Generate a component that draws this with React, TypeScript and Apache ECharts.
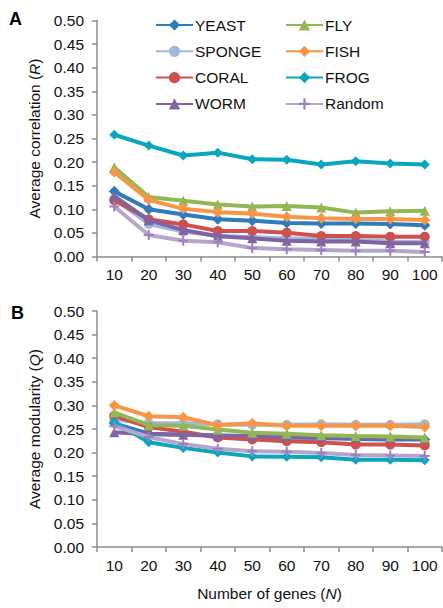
import React, { useEffect, useRef } from "react";
import * as echarts from "echarts";

const categories = ["10", "20", "30", "40", "50", "60", "70", "80", "90", "100"];

const seriesNames = ["YEAST", "SPONGE", "CORAL", "WORM", "FLY", "FISH", "FROG", "Random"];

// Panel A: average correlation (R)
const corrYEAST = [0.138, 0.1, 0.089, 0.079, 0.076, 0.071, 0.07, 0.07, 0.069, 0.066];
const corrSPONGE = [0.122, 0.069, 0.053, 0.044, 0.041, 0.0385, 0.0364, 0.035, 0.032, 0.03];
const corrCORAL = [0.119, 0.079, 0.068, 0.054, 0.054, 0.0505, 0.0434, 0.0434, 0.042, 0.042];
const corrWORM = [0.128, 0.077, 0.056, 0.043, 0.0385, 0.0335, 0.032, 0.032, 0.028, 0.028];
const corrFLY = [0.189, 0.126, 0.118, 0.11, 0.106, 0.107, 0.104, 0.093, 0.096, 0.097];
const corrFISH = [0.179, 0.12, 0.101, 0.094, 0.091, 0.084, 0.081, 0.0794, 0.0794, 0.0775];
const corrFROG = [0.258, 0.235, 0.214, 0.22, 0.206, 0.205, 0.195, 0.202, 0.197, 0.195];
const corrRandom = [0.106, 0.0455, 0.0335, 0.03, 0.018, 0.0155, 0.0138, 0.012, 0.012, 0.0095];

// Panel B: average modularity (Q)
const modYEAST = [0.262, 0.24, 0.238, 0.236, 0.234, 0.232, 0.231, 0.229, 0.228, 0.228];
const modSPONGE = [0.27, 0.262, 0.262, 0.26, 0.259, 0.259, 0.26, 0.259, 0.259, 0.26];
const modCORAL = [0.278, 0.254, 0.244, 0.232, 0.228, 0.224, 0.222, 0.217, 0.217, 0.215];
const modWORM = [0.243, 0.239, 0.238, 0.236, 0.235, 0.234, 0.233, 0.232, 0.231, 0.23];
const modFLY = [0.285, 0.258, 0.257, 0.249, 0.242, 0.24, 0.237, 0.235, 0.234, 0.232];
const modFISH = [0.3, 0.277, 0.275, 0.258, 0.262, 0.257, 0.257, 0.257, 0.257, 0.254];
const modFROG = [0.265, 0.222, 0.21, 0.2, 0.192, 0.191, 0.19, 0.185, 0.185, 0.184];
const modRandom = [0.256, 0.233, 0.218, 0.208, 0.203, 0.202, 0.199, 0.195, 0.194, 0.193];

const yTicks = [0, 0.5, 0.05];

const colors: Record<string, string> = {
  YEAST: "#2E7CBA",
  SPONGE: "#9DB9DC",
  CORAL: "#D0504D",
  WORM: "#8064A2",
  FLY: "#93B755",
  FISH: "#F79646",
  FROG: "#0AA6BE",
  Random: "#B6A6CC",
};

const PLUS = "path://M4,0H6V4H10V6H6V10H4V6H0V4H4Z";

const symbols: Record<string, string> = {
  YEAST: "diamond",
  SPONGE: "circle",
  CORAL: "circle",
  WORM: "triangle",
  FLY: "triangle",
  FISH: "diamond",
  FROG: "diamond",
  Random: PLUS,
};

const symbolSizes: Record<string, number> = {
  YEAST: 11,
  SPONGE: 10,
  CORAL: 10,
  WORM: 10,
  FLY: 10,
  FISH: 11,
  FROG: 10,
  Random: 10,
};

const corrData = [corrYEAST, corrSPONGE, corrCORAL, corrWORM, corrFLY, corrFISH, corrFROG, corrRandom];
const modData = [modYEAST, modSPONGE, modCORAL, modWORM, modFLY, modFISH, modFROG, modRandom];

const FONT = "'Liberation Sans', Arial, sans-serif";
const FS = 15.5;

export default function App() {
  const ref = useRef<HTMLDivElement>(null);

  useEffect(() => {
    if (!ref.current) return;
    const chart = echarts.init(ref.current, undefined, { renderer: "svg" });

    const axisLine = { show: true, lineStyle: { color: "#8C8C8C", width: 1.5 } };
    const axisTick = { show: true, length: 5, lineStyle: { color: "#8C8C8C", width: 1.5 } };
    const labelStyle = { color: "#111", fontSize: FS, fontFamily: FONT };
    const nameStyle = {
      color: "#111",
      fontSize: FS,
      fontFamily: FONT,
      rich: { i: { fontStyle: "italic", fontSize: FS, fontFamily: FONT, color: "#111" } },
    };

    const makeX = (gridIndex: number, withName: boolean) => ({
      type: "category",
      gridIndex,
      data: categories,
      boundaryGap: true,
      axisLine,
      axisTick: { ...axisTick, interval: 0, alignWithLabel: false },
      axisLabel: { ...labelStyle, margin: 10, interval: 0 },
      splitLine: { show: false },
      name: withName ? "Number of genes ({i|N})" : "",
      nameLocation: "middle",
      nameGap: 38,
      nameTextStyle: nameStyle,
    });

    const makeY = (gridIndex: number, name: string) => ({
      type: "value",
      gridIndex,
      min: yTicks[0],
      max: yTicks[1],
      interval: yTicks[2],
      axisLine,
      axisTick: { ...axisTick },
      axisLabel: { ...labelStyle, margin: 13, formatter: (v: number) => v.toFixed(2) },
      splitLine: { show: false },
      name,
      nameLocation: "middle",
      nameGap: 55,
      nameTextStyle: nameStyle,
    });

    const mkSeries = (data: number[][], idx: number) =>
      seriesNames.map((name, i) => ({
        name,
        type: "line",
        xAxisIndex: idx,
        yAxisIndex: idx,
        data: data[i],
        symbol: symbols[name],
        symbolSize: symbolSizes[name],
        showAllSymbol: true,
        lineStyle: { color: colors[name], width: 4 },
        itemStyle: { color: name === "Random" ? "#9B80C4" : colors[name] },
        color: colors[name],
        z: 2 + i,
      }));

    const legendCommon = {
      orient: "vertical",
      padding: 0,
      itemWidth: 37,
      itemHeight: 14,
      itemGap: 8.3,
      textStyle: { color: "#111", fontSize: FS, fontFamily: FONT, lineHeight: 18, padding: [0, 0, 0, -3] },
    };

    chart.setOption({
      animation: false,
      backgroundColor: "#fff",
      grid: [
        { left: 97, top: 20.5, width: 345, height: 236 },
        { left: 97, top: 311, width: 345, height: 236 },
      ],
      xAxis: [makeX(0, false), makeX(1, true)],
      yAxis: [makeY(0, "Average correlation ({i|R})"), makeY(1, "Average modularity ({i|Q})")],
      legend: [
        { ...legendCommon, left: 155, top: 16, data: ["YEAST", "SPONGE", "CORAL", "WORM"] },
        { ...legendCommon, left: 285, top: 16, data: ["FLY", "FISH", "FROG", "Random"] },
      ],
      graphic: [
        {
          type: "text",
          left: 9,
          top: 10,
          style: { text: "A", fontSize: 18, fontWeight: "bold", fontFamily: FONT, fill: "#000" },
        },
        {
          type: "text",
          left: 11,
          top: 304,
          style: { text: "B", fontSize: 18, fontWeight: "bold", fontFamily: FONT, fill: "#000" },
        },
      ],
      series: [...mkSeries(corrData, 0), ...mkSeries(modData, 1)],
    });

    return () => chart.dispose();
  }, []);

  return (
    <div
      ref={ref}
      style={{ position: "absolute", left: 0, top: 0, width: 443, height: 608 }}
    />
  );
}
